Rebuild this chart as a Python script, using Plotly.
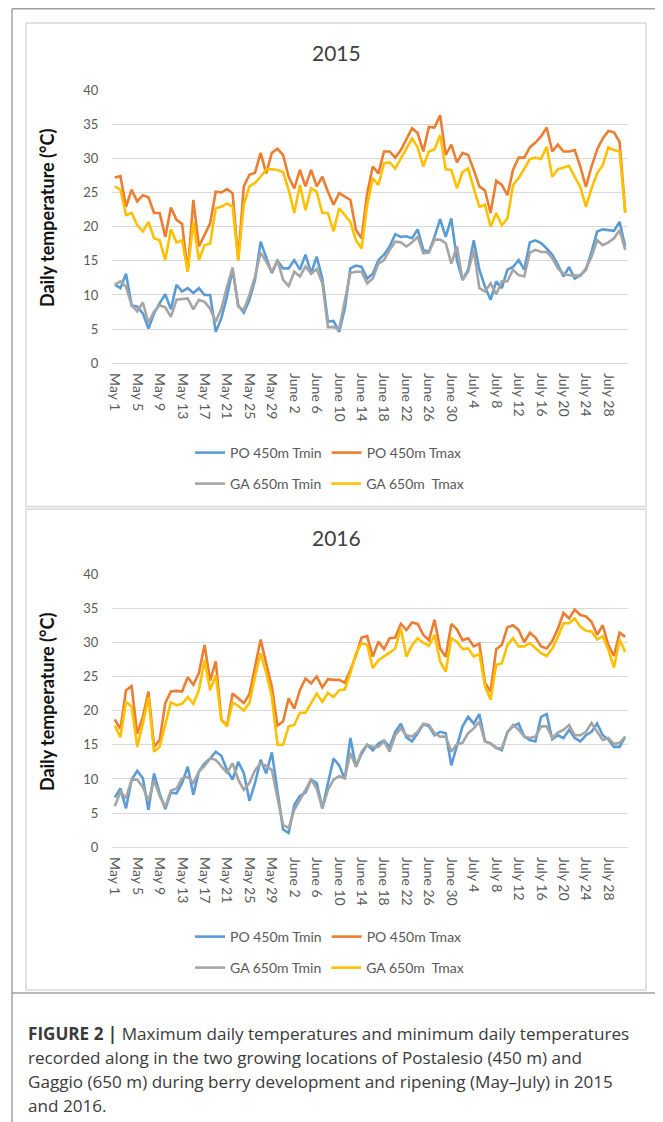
import plotly.graph_objects as go

# The page body has an 8px margin, so figure pixel = target pixel - 8.
OFF = 8
W, H = 663 - OFF, 1122 - OFF

months = [("May", 31), ("June", 30), ("July", 31)]
dates = [f"{m} {d}" for m, n in months for d in range(1, n + 1)]
tick_labels = dates[::4]

series_names = ["PO 450m Tmin", "PO 450m Tmax", "GA 650m Tmin", "GA 650m\u00a0 Tmax"]
series_colors = ["#5B9BD5", "#ED7D31", "#A5A5A5", "#FFC000"]

po_tmin_2015 = [11.5,11,13.1,8.5,8.3,7.3,5.1,7.3,8.8,10.1,7.9,11.5,10.5,11,10.3,11,10,10,4.6,6.6,9.8,13.7,8.5,7.4,9.3,12.2,17.8,15.6,13.2,15,13.9,13.9,15.1,13.7,15.9,13.2,15.6,12.4,6.1,6.2,4.6,8,13.9,14.3,14.1,12.4,13.1,15.1,
                15.9,17.1,18.9,18.5,18.6,18.3,19.6,16.6,16.3,18.5,21.1,18.5,21.2,15.1,12.2,13.7,18,13.7,11.2,9.3,12,11,13.7,14.1,15.1,13.7,17.7,18,17.6,16.8,15.9,14.4,12.7,14.1,12.4,12.9,13.7,16.3,19.3,19.6,19.5,19.4,20.7,17.1]
po_tmax_2015 = [27.2,27.4,22.9,25.4,23.7,24.6,24.3,22.0,22.0,18.5,22.8,21.0,20.4,13.4,23.9,17.1,18.8,20.5,25.1,25.0,25.5,24.9,15.1,25.9,27.6,27.9,30.8,27.8,30.8,31.4,30.5,27.3,25.6,28.3,25.9,28.3,25.9,27.3,25.1,23.2,24.9,24.4,23.9,19.5,18.3,24.9,28.8,27.8,
                31,31,30.1,31.2,32.7,34.4,33.7,31,34.6,34.5,36.3,30.5,32,29.4,30.8,30.5,28.3,25.9,25.3,22,26.7,26.1,24.6,28.3,30.1,30.1,31.6,32.3,33.2,34.5,31,32,31,31,31.2,28.8,25.8,28.8,31.3,32.9,34,33.8,32.4,22.2]
ga_tmin_2015 = [11.5,12,11.2,8.5,7.6,8.9,5.9,7.6,8.5,8.2,6.8,9.3,9.4,9.5,7.9,9.3,9,8,6.1,8,11.2,14,8.3,7.8,10,12.7,16.2,14.9,13.3,15.1,12.2,11.3,13.4,12.7,14.2,13.1,13.8,11.7,5.3,5.3,5,9.3,13.2,13.4,13.4,11.7,12.4,14.6,
                15.1,16.6,17.8,17.7,17.1,17.7,18.5,16.1,16.2,18.1,18.1,17.6,14.6,17.1,12.2,13.4,16.6,11,10.5,11.7,10.1,12,12,13.7,12.9,12.7,16.2,16.6,16.3,16.3,15.4,13.9,13.1,12.9,12.8,12.8,13.9,15.6,18,17.3,17.7,18.3,19.5,16.6]
ga_tmax_2015 = [25.9,25.4,21.7,22,20.2,19.3,20.7,18.3,18,15.1,19.6,17.7,18,13.4,20.7,15.1,17.3,17.5,22.7,22.9,23.4,22.9,15.1,23.2,25.9,26.4,27.3,28.4,28.4,28.3,28,25.4,22,26.1,22.4,25.6,25.1,22,22,19.3,22.7,21.7,20.7,18,16.8,23.2,27.1,26.1,
                29.3,29.4,28.5,30,31.5,32.9,31.6,28.8,31,31.3,33.4,28.4,28.3,25.6,28,28.5,25.6,22.9,23.2,20,22,20.2,21.2,26.1,27.1,28.4,29.9,30.1,29.9,31.7,27.3,28.4,28.7,28.9,27.3,25.8,22.9,25.6,27.8,29,31.6,31.2,31,22]

po_tmin_2016 = [7.3,8.6,5.7,9.9,11.2,10.1,5.5,10.8,7.9,5.6,8,7.9,9.4,11.8,7.7,11.1,12.3,13,14,13.4,11.3,9.9,12.5,10.9,6.8,9.4,12.8,10.8,13.9,8.4,2.6,2.1,6.2,7.5,8,9.9,9.4,5.7,9.4,13,12,10,16,11.8,13.7,15,14.2,15.2,
                15.6,14.7,16.9,18.1,16.1,15.5,16.7,18,17.7,16.4,16.9,16.7,12,15,17.7,19.1,18.1,19.5,15.5,15.2,14.6,14.2,16.9,17.7,18.1,16.2,15.7,15.5,19.1,19.5,15.8,16.4,16,17.2,16,15.5,16.4,16.9,18.1,16.4,15.8,14.7,14.7,16.2]
po_tmax_2016 = [18.7,17.3,23,23.6,16.6,19.1,22.8,14.7,15.7,21.1,22.8,22.9,22.8,24.9,23.8,25.5,29.6,24.4,27.2,18.7,17.8,22.5,21.8,21.1,22.4,26.2,30.4,26.9,23.5,17.8,18.4,21.8,20.3,23,24.7,24,25,23.4,24.6,24.5,24.5,24.1,25.9,28.1,30.7,30.9,27.9,30.1,
                29,30.6,30.7,32.7,31.8,32.9,32.7,31.1,30.3,33.3,29.1,27.9,32.7,31.9,30.3,30.6,29.4,29.8,24.1,22.8,29,29.6,32.2,32.5,31.8,30,31.4,30.7,29.4,29.1,30.2,32,34.3,33.5,34.8,34,33.8,33,31.1,32.5,29.6,28,31.4,30.8]
ga_tmin_2016 = [6,8.1,7.2,9.9,9.9,8.8,6.8,9.8,7.5,5.9,8.3,8.6,10.1,10.3,9.4,11.1,11.9,13,12.8,11.9,10.9,12.3,9.9,8.4,9.4,11.3,12.3,11.9,11.3,7.2,3.3,2.8,5.5,6.9,8.4,9.9,8.6,5.7,8.4,9.9,10.4,10.1,13.8,11.8,14,15,14.7,14.7,
                15.5,14,16.4,17.4,16.4,16.2,16.9,18.1,17.9,16.7,16.2,16.2,14,15.1,15.3,16.7,17.4,18.4,15.5,15.2,14.5,14.5,16.8,17.9,17.2,16.2,16,16.2,17.7,17.7,16,16.8,17.2,17.9,16.4,16.4,16.9,18.2,16.9,15.7,16,15.1,15.3,16.2]
ga_tmax_2016 = [17.8,16.1,21.3,20.6,14.7,18.1,22,14,14.7,18.1,21.2,20.8,21,22,21,23,27.4,23,25.2,18.6,17.7,21.2,20.7,20,21.1,25,28.4,25.5,22,15,15,17.7,17.9,19.7,19.7,21.1,22.5,21.3,22.6,22,23,23.1,25.5,28.4,29.9,29.6,26.2,27.4,
                27.9,28.5,29.1,32,27.9,29.6,30.6,29.9,29.5,31.1,27.2,25.7,30.6,30.1,29,29.1,27.9,28.3,23.6,21.6,26.7,26.9,29.6,30.6,29.4,29.4,29.9,29.1,28.4,28,29.1,30.8,32.8,32.8,33.5,32.3,31.7,31.6,30.4,30.9,28.9,26.3,30.4,28.6]

panels = [
    ("2015", [po_tmin_2015, po_tmax_2015, ga_tmin_2015, ga_tmax_2015]),
    ("2016", [po_tmin_2016, po_tmax_2016, ga_tmin_2016, ga_tmax_2016]),
]

FONT = "Lato, 'Open Sans', sans-serif"
TICK_COL = "#595959"
GRID_COL = "#D9D9D9"


def fy(Y):  # target page pixel (from top) -> paper fraction
    return 1 - (Y - OFF) / H


def fx(X):  # target page pixel (from left) -> paper fraction
    return (X - OFF) / W


fig = go.Figure()
panel_off = [0, 484]
plot_top, plot_bot = 90, 363.3
x_left, x_right = 112, 628

legend_names = [["legend", "legend2"], ["legend3", "legend4"]]
for p, (year, vals) in enumerate(panels):
    xa = "x" if p == 0 else "x2"
    ya = "y" if p == 0 else "y2"
    for k in range(4):
        fig.add_trace(go.Scatter(
            x=dates, y=vals[k], mode="lines", name=series_names[k],
            line=dict(color=series_colors[k], width=2.6),
            xaxis=xa, yaxis=ya, legend=legend_names[p][k // 2],
            hoverinfo="skip",
        ))

layout = dict(
    width=W, height=H, autosize=False,
    margin=dict(l=0, r=0, t=0, b=0, pad=0),
    paper_bgcolor="white", plot_bgcolor="white",
    font=dict(family=FONT, color=TICK_COL),
    showlegend=True,
)
for p in range(2):
    off = panel_off[p]
    sfx = "" if p == 0 else "2"
    layout["xaxis" + sfx] = dict(
        domain=[fx(x_left), fx(x_right)], anchor="y" + sfx,
        type="category", range=[-0.5, len(dates) - 0.5],
        tickmode="array", tickvals=tick_labels, ticktext=tick_labels,
        tickangle=90, tickfont=dict(size=14, color=TICK_COL, family=FONT),
        showgrid=False, showline=False, zeroline=False, automargin=False,
        ticks="outside", ticklen=6, tickcolor="rgba(0,0,0,0)",
    )
    layout["yaxis" + sfx] = dict(
        domain=[fy(plot_bot + off), fy(plot_top + off)], anchor="x" + sfx,
        range=[0, 40], dtick=5, tick0=0, automargin=False,
        showgrid=True, gridcolor=GRID_COL, gridwidth=1,
        zeroline=True, zerolinecolor=GRID_COL, zerolinewidth=1,
        showline=False,
        tickfont=dict(size=13, color=TICK_COL, family=FONT),
        ticks="outside", ticklen=10, tickcolor="rgba(0,0,0,0)",
    )
    rows_y = [453 + off, 484 + off]
    for r in range(2):
        name = legend_names[p][r]
        layout[name] = dict(
            orientation="h", x=fx(190), xanchor="left",
            y=fy(rows_y[r]), yanchor="middle",
            font=dict(size=14, color=TICK_COL, family=FONT),
            bgcolor="rgba(0,0,0,0)", itemwidth=30,
            traceorder="normal",
            itemclick=False, itemdoubleclick=False,
        )

fig.update_layout(**layout)

FRAME = "#A0A0A0"
line_kw = dict(type="line", xref="paper", yref="paper", layer="below")
fig.add_shape(x0=fx(12), x1=fx(659), y0=fy(8.7), y1=fy(8.7), line=dict(color=FRAME, width=1.5), **line_kw)
fig.add_shape(x0=fx(12), x1=fx(12), y0=fy(8.7), y1=0, line=dict(color=FRAME, width=1.5), **line_kw)
fig.add_shape(x0=fx(659), x1=fx(659), y0=fy(8.7), y1=0, line=dict(color=FRAME, width=1.5), **line_kw)
fig.add_shape(x0=fx(12), x1=fx(659), y0=fy(993), y1=fy(993), line=dict(color=FRAME, width=1.5), **line_kw)
for off_top, off_bot in [(23, 506.5), (509, 990)]:
    fig.add_shape(type="rect", xref="paper", yref="paper",
                  x0=fx(26), x1=fx(646), y0=fy(off_bot), y1=fy(off_top),
                  line=dict(color="#D9D9D9", width=1.5), fillcolor="rgba(0,0,0,0)", layer="below")

for p, (year, _) in enumerate(panels):
    off = panel_off[p]
    fig.add_annotation(text=year, x=fx(336), y=fy(53 + off), xref="paper", yref="paper",
                       showarrow=False, xanchor="center", yanchor="middle",
                       font=dict(size=21, color="#404040", family=FONT))
    fig.add_annotation(text="<b>Daily temperature (°C)</b>", x=fx(47), y=fy(218 + off),
                       xref="paper", yref="paper", textangle=-90, showarrow=False,
                       xanchor="center", yanchor="middle",
                       font=dict(size=18, color="#111111", family=FONT))

caption = [
    "<b>FIGURE 2 |</b> Maximum daily temperatures and minimum daily temperatures",
    "recorded along in the two growing locations of Postalesio (450 m) and",
    "Gaggio (650 m) during berry development and ripening (May–July) in 2015",
    "and 2016.",
]
cap_y = [1033, 1057, 1081, 1105]
for t, yy in zip(caption, cap_y):
    fig.add_annotation(text=t, x=fx(26), y=fy(yy), xref="paper", yref="paper",
                       showarrow=False, xanchor="left", yanchor="middle",
                       font=dict(size=17.1, color="#3A3A3A", family="'Open Sans', sans-serif"))

fig.write_html("out.html")
